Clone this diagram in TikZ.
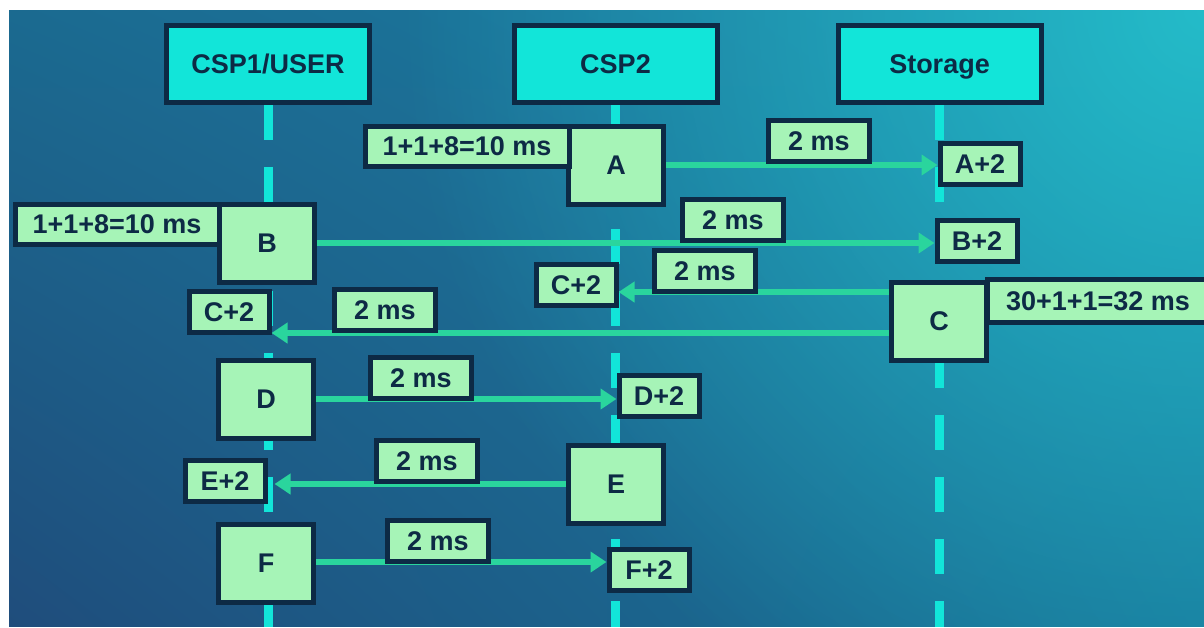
\documentclass[tikz,border=0pt]{standalone}
\usepackage{fontspec}
\setmainfont{Liberation Sans}
\usetikzlibrary{arrows.meta,shadows,fadings,shadings}
\definecolor{seqnavy}{HTML}{0D2A45}
\definecolor{seqcyan}{HTML}{12E5D9}
\definecolor{seqmint}{HTML}{A6F4B7}
\definecolor{seqarrow}{HTML}{2AD59D}
\definecolor{bgul}{HTML}{1B6A90}
\definecolor{bgur}{HTML}{1C80A6}
\definecolor{bgll}{HTML}{1F4D7C}
\definecolor{bglr}{HTML}{18769A}
\definecolor{bgglow}{HTML}{25C6CF}
\tikzfading[name=glowfade, inner color=transparent!0, outer color=transparent!100]
\pgfdeclarelayer{back}
\pgfdeclarelayer{lines}
\pgfsetlayers{back,lines,main}

\begin{document}
\begin{tikzpicture}[
  x=1pt, y=-1pt,
  box/.style={draw=seqnavy, line width=5pt, text=seqnavy, inner sep=0pt, text depth=0pt,
    font=\fontsize{27}{30}\selectfont\bfseries,
    drop shadow={shadow xshift=2pt, shadow yshift=-2pt, opacity=.3}},
  head/.style={box, fill=seqcyan, minimum width=203pt, minimum height=77pt},
  act/.style={box, fill=seqmint, minimum width=95pt, minimum height=78pt},
  res/.style={box, fill=seqmint, minimum width=80pt, minimum height=41pt},
  cost/.style={box, fill=seqmint, minimum width=101pt, minimum height=41pt},
  total/.style={box, fill=seqmint, minimum width=204pt, minimum height=40pt},
  lifeline/.style={draw=seqcyan, line width=9pt, dash pattern=on 35pt off 27pt},
  msg/.style={draw=seqarrow, line width=5.5pt, -{Triangle[length=16pt, width=20pt]}}
]
\useasboundingbox (0,0) rectangle (1204,627);

% background
\begin{pgfonlayer}{back}
\shade[upper left=bgul, upper right=bgur, lower left=bgll, lower right=bglr] (9,10) rectangle (1204,626);
\begin{scope}
  \clip (9,10) rectangle (1204,626);
  \fill[bgglow, opacity=.85, path fading=glowfade] (1204,10) circle (800);
\end{scope}
\end{pgfonlayer}

% headers
\node[head] (csp1) at (268,64) {CSP1/USER};
\node[head] (csp2) at (615.5,64) {CSP2};
\node[head] (stor) at (939.5,64) {Storage};

% activations
\node[act] (A) at (616,165) {A};
\node[act] (B) at (267,243) {B};
\node[act] (C) at (939,321) {C};
\node[act] (D) at (266,399) {D};
\node[act] (E) at (616,484) {E};
\node[act] (F) at (266,563) {F};

% results
\node[res] (A2) at (980,164) {A+2};
\node[res] (B2) at (977,241) {B+2};
\node[res] (C2b) at (576,285) {C+2};
\node[res] (C2a) at (229,312) {C+2};
\node[res] (D2) at (659,396) {D+2};
\node[res] (E2) at (225,481) {E+2};
\node[res] (F2) at (649,570) {F+2};

% transfer times
\node[cost] (mA) at (819,141) {2 ms};
\node[cost] (mB) at (733,220) {2 ms};
\node[cost] (mCb) at (705,271) {2 ms};
\node[cost] (mCa) at (385,310) {2 ms};
\node[cost] (mD) at (421,378) {2 ms};
\node[cost] (mE) at (427,461) {2 ms};
\node[cost] (mF) at (438,541) {2 ms};

% processing times
\node[total] (tA) at (467,146) {1+1+8=10 ms};
\node[total] (tB) at (117,224) {1+1+8=10 ms};
\node[total, minimum width=221pt, minimum height=43pt] (tC) at (1098,301) {30+1+1=32 ms};

\begin{pgfonlayer}{lines}
\draw[lifeline] (csp1.south) -- (csp1 |- 0,627);
\draw[lifeline] (csp2.south) -- (csp2 |- 0,627);
\draw[lifeline] (stor.south) -- (stor |- 0,627);

\draw[msg] (A.east) -- (A.east -| A2.west);
\draw[msg] (B.east) -- (B.east -| B2.west);
\draw[msg] ([yshift=29pt]C.west) -- ([yshift=29pt]C.west -| C2b.east);
\draw[msg] ([yshift=-12pt]C.west) -- ([yshift=-12pt]C.west -| C2a.east);
\draw[msg] (D.east) -- (D.east -| D2.west);
\draw[msg] (E.west) -- ([xshift=7pt]E2.east |- E.west);
\draw[msg] ([yshift=1pt]F.east) -- ([yshift=1pt]F.east -| F2.west);
\end{pgfonlayer}
\end{tikzpicture}
\end{document}
